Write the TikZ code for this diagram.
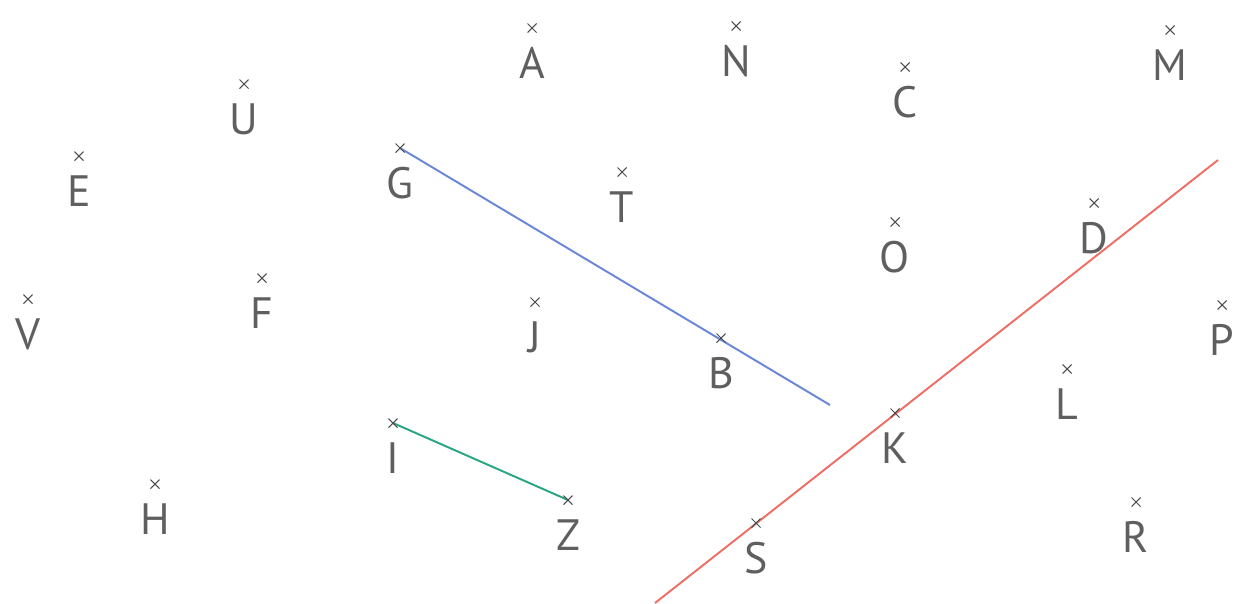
\documentclass[tikz,border=0pt]{standalone}
\usepackage{fontspec}
\setmainfont{PT Sans}
\usepackage{tikz}
\usetikzlibrary{positioning}
\usepackage{xcolor}
\definecolor{ptgrey}{RGB}{95,95,95}
\definecolor{lineblue}{RGB}{105,135,215}
\definecolor{linered}{RGB}{238,110,100}
\definecolor{linegreen}{RGB}{40,165,130}

\begin{document}
\begin{tikzpicture}[x=0.02cm, y=-0.02cm,
    lbl/.style={text=ptgrey, inner sep=0pt, font=\fontsize{25}{30}\selectfont},
    crossmark/.style={ptgrey!80!black, line width=0.6pt}]
    \fill[white] (0,0) rectangle (1236,603);
    \useasboundingbox (0,0) rectangle (1236,603);
    \foreach \n/\x/\y in {A/532/28, N/736/26, C/905/67, M/1170/30, U/244/84, E/79/156,
                          G/400/148, T/622/172, O/895/222, D/1094/203, F/262/278, V/28/299,
                          J/535/302, B/721/338, P/1222/305, L/1067/369, K/895/413, I/393/423,
                          H/155/484, Z/568/500, R/1136/502, S/756/523}
      \coordinate (\n) at (\x,\y);
    \coordinate (redlow) at (655,603);
    \coordinate (redhigh) at (1218,160);
    \coordinate (blueend) at (830,405);
    \draw[linered, line width=1.1pt] (redlow) -- (redhigh);
    \draw[lineblue, line width=1.1pt] (G) -- (blueend);
    \draw[linegreen, line width=1.1pt] (I) -- (Z);
    \foreach \n/\x/\y in {A/532/28, N/736/26, C/905/67, M/1170/30, U/244/84, E/79/156,
                          G/400/148, T/622/172, O/895/222, D/1094/203, F/262/278, V/28/299,
                          J/535/302, B/721/338, P/1222/305, L/1067/369, K/895/413, I/393/423,
                          H/155/484, Z/568/500, R/1136/502, S/756/523}
    {
      \draw[crossmark] (\x-4.5,\y-4.5) -- (\x+4.5,\y+4.5) (\x-4.5,\y+4.5) -- (\x+4.5,\y-4.5);
      \node[lbl, below=0.38cm of \n] (\n lab) {\n};
    }
  \end{tikzpicture}
\end{document}
